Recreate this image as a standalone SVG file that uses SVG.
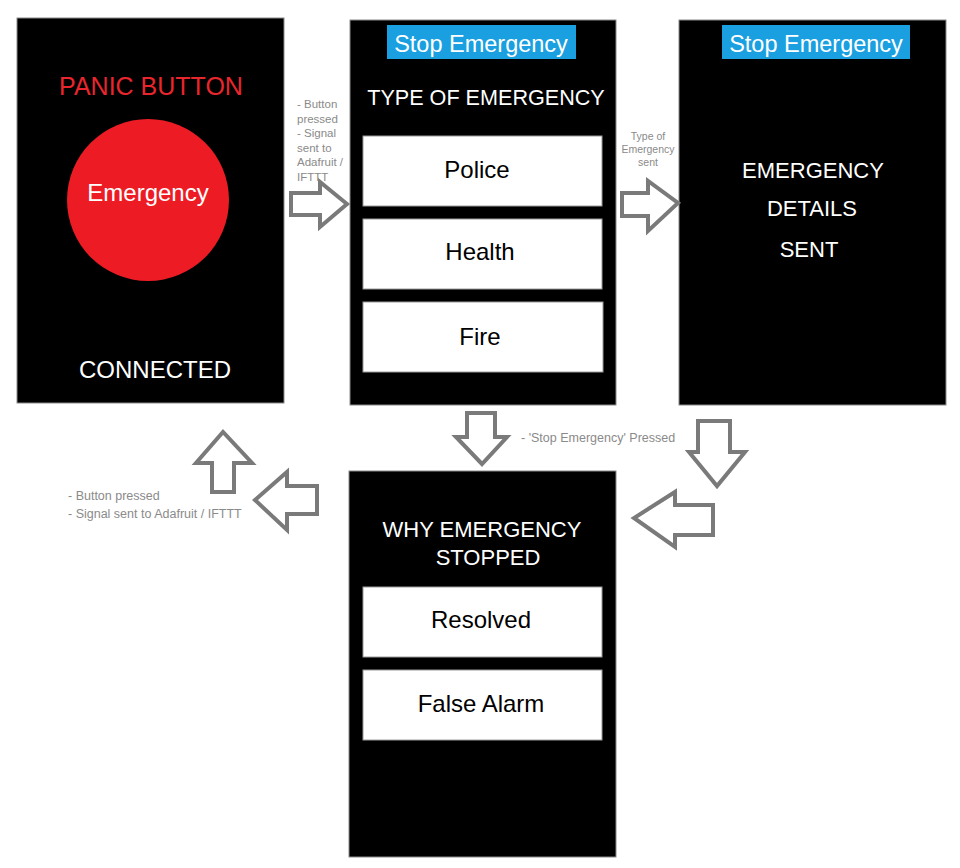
<svg xmlns="http://www.w3.org/2000/svg" width="960" height="868" viewBox="0 0 960 868">
<style>
.panel{fill:#000;stroke:#8a8a8a;stroke-width:1}
.btn{fill:#fff;stroke:#9a9a9a;stroke-width:1}
.banner{fill:#1a9fe0}
.wt{font-family:"Liberation Sans",Arial,sans-serif;fill:#fff;text-anchor:middle}
.bt{font-family:"Liberation Sans",Arial,sans-serif;fill:#000;text-anchor:middle;font-size:24px}
.lbl{font-family:"Liberation Sans",Arial,sans-serif;fill:#8a8a8a}
.arr{fill:#fff;stroke:#7a7a7a;stroke-width:4;stroke-linejoin:miter}
</style>
<rect width="960" height="868" fill="#fff"/>
<g id="panel-panic">
<rect class="panel" x="17" y="18" width="267" height="385"/>
<text x="151" y="95" font-family="Liberation Sans, Arial, sans-serif" font-size="25" fill="#e8262d" text-anchor="middle">PANIC BUTTON</text>
<circle cx="148" cy="200" r="81" fill="#ed1c24"/>
<text class="wt" x="148" y="201" font-size="24">Emergency</text>
<text class="wt" x="155" y="378" font-size="24">CONNECTED</text>
</g>
<g id="panel-type">
<rect class="panel" x="350" y="20" width="266" height="385"/>
<rect class="banner" x="387" y="25" width="189" height="34"/>
<text class="wt" x="481" y="52" font-size="23.5">Stop Emergency</text>
<text class="wt" x="486" y="105" font-size="21.6">TYPE OF EMERGENCY</text>
<rect class="btn" x="363" y="136" width="239" height="70"/>
<text class="bt" x="477" y="178">Police</text>
<rect class="btn" x="363" y="219" width="239" height="70"/>
<text class="bt" x="480" y="260">Health</text>
<rect class="btn" x="363" y="302" width="240" height="70"/>
<text class="bt" x="480" y="345">Fire</text>
</g>
<g id="panel-sent">
<rect class="panel" x="679" y="20" width="267" height="385"/>
<rect class="banner" x="722" y="25" width="188" height="34"/>
<text class="wt" x="816" y="52" font-size="23.5">Stop Emergency</text>
<text class="wt" x="813" y="178" font-size="22">EMERGENCY</text>
<text class="wt" x="812" y="216" font-size="22">DETAILS</text>
<text class="wt" x="809" y="257" font-size="22">SENT</text>
</g>
<g id="panel-why">
<rect class="panel" x="349" y="471" width="267" height="386"/>
<text class="wt" x="482" y="537" font-size="22">WHY EMERGENCY</text>
<text class="wt" x="488" y="565" font-size="22">STOPPED</text>
<rect class="btn" x="363" y="587" width="239" height="70"/>
<text class="bt" x="481" y="628">Resolved</text>
<rect class="btn" x="363" y="670" width="239" height="70"/>
<text class="bt" x="481" y="712">False Alarm</text>
</g>
<g id="connectors">
<polygon class="arr" points="291,193 320,193 320,182 347,204 320,227 320,215 291,215"/>
<polygon class="arr" points="622,193 648,193 648,181 678,203 648,231 648,216 622,216"/>
<polygon class="arr" points="467,413 495,413 495,437 507,437 482,464 456,437 467,437"/>
<polygon class="arr" points="698,421 730,421 730,452 745,452 717,486 689,452 698,452"/>
<polygon class="arr" points="713,505 675,505 675,492 634,518 675,547 675,535 713,535"/>
<polygon class="arr" points="317,486 287,486 287,472 255,500 287,530 287,514 317,514"/>
<polygon class="arr" points="212,492 212,463 196,463 223,432 252,463 234,463 234,492"/>
</g>
<g id="labels">
<text class="lbl" font-size="11.5"><tspan x="297" y="108">- Button</tspan><tspan x="297" y="122.5">pressed</tspan><tspan x="297" y="137">- Signal</tspan><tspan x="297" y="151.5">sent to</tspan><tspan x="297" y="166">Adafruit /</tspan><tspan x="297" y="180.5">IFTTT</tspan></text>
<text class="lbl" font-size="10.5" text-anchor="middle"><tspan x="648" y="140">Type of</tspan><tspan x="648" y="153">Emergency</tspan><tspan x="648" y="166">sent</tspan></text>
<text class="lbl" x="521" y="442" font-size="12.5">- 'Stop Emergency' Pressed</text>
<text class="lbl" font-size="12.5"><tspan x="68" y="500">- Button pressed</tspan><tspan x="68" y="518">- Signal sent to Adafruit / IFTTT</tspan></text>
</g>
</svg>
